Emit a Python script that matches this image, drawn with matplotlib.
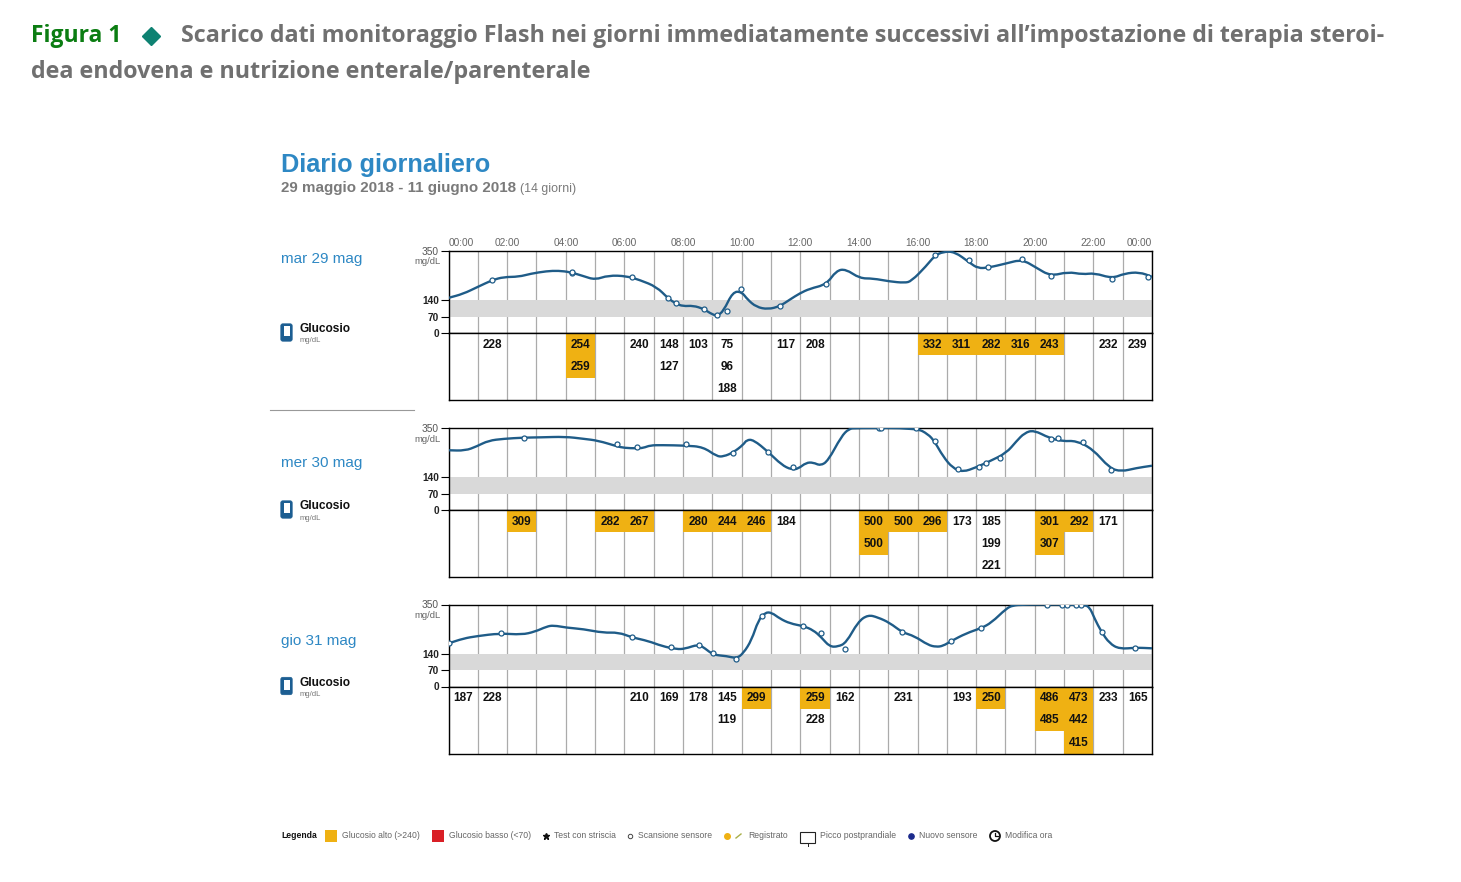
import matplotlib
matplotlib.use("Agg")
import matplotlib.pyplot as plt
from matplotlib.patches import FancyBboxPatch, Rectangle, Circle, PathPatch
from matplotlib.path import Path
import numpy as np

W, H = 1461, 882

day_labels = ["mar 29 mag", "mer 30 mag", "gio 31 mag"]
hour_ticks = ["00:00", "02:00", "04:00", "06:00", "08:00", "10:00", "12:00",
              "14:00", "16:00", "18:00", "20:00", "22:00", "00:00"]

curve1_hours = [0, 0.5, 1, 1.5, 1.88, 2.4, 2.8, 3.35, 3.75, 4.15, 4.6, 5, 5.45, 6.08, 6.53, 7.1, 7.5,
                7.75, 8.0, 8.35, 8.7, 9, 9.17, 9.38, 9.7, 10, 10.2, 10.5, 10.9, 11.3, 11.65, 11.98,
                12.32, 12.89, 13.23, 13.55, 14.03, 14.48, 15.05, 15.56, 15.79, 16.3, 16.58, 16.87,
                17.27, 17.78, 18.06, 18.42, 19.03, 19.57, 20.05, 20.54, 21.13, 21.64, 22.04, 22.64,
                23.06, 23.57, 24]
curve1_values = [150, 167, 197, 226, 239, 240, 253, 264, 266, 260, 243, 227, 246, 243, 226, 197, 147,
                 126, 114, 117, 103, 79, 74, 93, 176, 176, 143, 111, 101, 114, 143, 169,
                 189, 207, 266, 273, 233, 233, 220, 214, 221, 286, 329, 347,
                 347, 300, 276, 279, 297, 314, 279, 243, 261, 250, 256, 233,
                 254, 260, 240]
scan1_hours = [1.5, 4.2, 4.2, 6.25, 7.5, 7.75, 8.7, 9.17, 9.5, 9.98, 11.3, 12.89, 16.58, 17.76,
               18.42, 19.57, 20.54, 22.64, 23.88]
scan1_values = [228, 254, 259, 240, 148, 127, 103, 75, 96, 188, 117, 208, 332, 311,
                282, 316, 243, 232, 239]

curve2_hours = [0, 0.57, 0.97, 1.36, 1.88, 2.56, 3.13, 3.98, 4.6, 5.11, 5.74, 6, 6.42, 6.65, 6.88,
                7.27, 8.09, 8.69, 9.15, 9.38, 9.72, 10.06, 10.17, 10.4, 10.91, 11.36, 11.7, 11.93,
                12.2, 12.44, 12.69, 12.95, 13.4, 13.66, 13.9, 15.96, 16.36, 16.58, 16.87, 17.2,
                17.55, 18, 18.46, 19.03, 19.37, 19.65, 19.97, 20.5, 20.96, 21.41, 21.98, 22.55,
                22.95, 23.46, 24]
curve2_values = [255, 253, 272, 296, 304, 309, 310, 313, 304, 296, 272, 265, 263, 265, 276,
                 277, 275, 269, 229, 228, 246, 279, 299, 300, 248, 193, 172, 176,
                 202, 203, 189, 210, 314, 347, 350, 350, 324, 293, 229, 179,
                 162, 182, 208, 243, 293, 329, 341, 307, 293, 296, 260, 179,
                 164, 179, 189]
scan2_hours = [2.56, 5.74, 6.42, 8.09, 9.72, 10.91, 11.74, 14.7, 14.76, 15.96, 16.58, 17.38,
               18.09, 18.34, 18.8, 20.54, 20.8, 21.66, 22.6]
scan2_values = [309, 282, 267, 280, 244, 246, 184, 500, 500, 500, 296, 173,
                185, 199, 221, 301, 307, 292, 171]

curve3_hours = [0, 0.51, 0.97, 1.76, 2.5, 2.95, 3.35, 3.58, 4.03, 4.6, 5.28, 5.8, 6.25, 6.82, 7.27,
                7.78, 8.07, 8.52, 8.75, 9.03, 9.49, 9.83, 10.06, 10.34, 10.57, 10.8, 11.02, 11.3,
                11.65, 12.1, 12.44, 12.72, 13, 13.29, 13.57, 13.97, 14.31, 14.65, 15.05, 15.48,
                15.9, 16.36, 16.64, 16.87, 17.15, 17.66, 18.17, 18.52, 19.03, 19.25, 19.6, 21.64,
                21.87, 22.04, 22.27, 22.55, 22.89, 23.46, 24]
curve3_values = [184, 205, 215, 227, 221, 234, 256, 261, 251, 245, 229, 231, 210, 194, 173,
                 159, 161, 180, 163, 135, 130, 120, 142, 198, 283, 316, 316, 290,
                 269, 258, 241, 210, 170, 170, 187, 276, 306, 295, 272, 231,
                 215, 177, 169, 173, 194, 227, 249, 272, 333, 346, 350, 350,
                 340, 290, 234, 184, 160, 166, 163]
scan3_hours = [0.03, 1.8, 6.26, 7.59, 8.56, 9.02, 9.81, 10.68, 12.1, 12.72, 13.51, 15.48, 17.14,
               18.17, 20.42, 20.92, 21.1, 21.41, 21.58, 22.29, 23.42]
scan3_values = [187, 228, 210, 169, 178, 145, 119, 299, 259, 228, 162, 231, 193,
                250, 486, 485, 473, 442, 415, 233, 165]

curves = [(curve1_hours, curve1_values, scan1_hours, scan1_values),
          (curve2_hours, curve2_values, scan2_hours, scan2_values),
          (curve3_hours, curve3_values, scan3_hours, scan3_values)]

y_max = 350
high_limit = 240
band_low, band_high = 70, 140

ORANGE = "#EFB113"
LINE = "#1F5C88"
GRID = "#ABABAB"
BLUE = "#2E88C4"
SANS = "Liberation Sans"

plt.rcParams["font.family"] = [SANS, "DejaVu Sans"]

fig = plt.figure(figsize=(W / 100, H / 100), dpi=100)


def px_axes(x0, y0, x1, y1):
    return fig.add_axes([x0 / W, 1 - y1 / H, (x1 - x0) / W, (y1 - y0) / H])


def smooth_path(xs, ys):
    # quadratic segments through the midpoints, the read values are the control points
    pts = np.column_stack([xs, ys])
    mids = (pts[:-1] + pts[1:]) / 2
    verts = [pts[0], mids[0]]
    codes = [Path.MOVETO, Path.LINETO]
    for k in range(1, len(pts) - 1):
        verts += [pts[k], mids[k]]
        codes += [Path.CURVE3, Path.CURVE3]
    verts.append(pts[-1])
    codes.append(Path.LINETO)
    return Path(verts, codes)


page = px_axes(0, 0, W, H)
page.set_xlim(0, W)
page.set_ylim(H, 0)
page.axis("off")

# header
HEAD = "Open Sans"
page.text(31, 36, "Figura 1", family=HEAD, weight="bold", fontsize=16.5, color="#0B7D12", va="center")
page.plot([151], [36], marker="D", ms=9, color="#0E8272", ls="none")
page.text(181, 36, "Scarico dati monitoraggio Flash nei giorni immediatamente successivi all\u2019impostazione di terapia steroi-",
          family=HEAD, weight="bold", fontsize=16.75, color="#707070", va="center")
page.text(31, 72, "dea endovena e nutrizione enterale/parenterale",
          family=HEAD, weight="bold", fontsize=16.75, color="#707070", va="center")

page.text(281, 165, "Diario giornaliero", fontsize=18.2, weight="bold", color=BLUE, va="center")
page.text(281, 188, "29 maggio 2018 - 11 giugno 2018", fontsize=10.9, weight="bold", color="#7A7A7A", va="center")
page.text(520, 189, "(14 giorni)", fontsize=8.9, color="#7A7A7A", va="center")
page.plot([270, 414], [410, 410], color="#999999", lw=0.8)

tops = [251, 428, 604.5]
date_y = [258.5, 463.5, 640.5]

for i, (hours, values, scan_h, scan_v) in enumerate(curves):
    top = tops[i]
    zero = top + 82
    bottom = top + 149
    ax = px_axes(448.5, top, 1152, zero)
    ax.set_xlim(0, 24)
    ax.set_ylim(0, y_max)
    ax.axhspan(band_low, band_high, color="#D9D9D9", lw=0, zorder=1.5)
    ax.set_xticks(np.arange(0, 25))
    ax.xaxis.tick_top()
    ax.tick_params(axis="x", length=0, pad=2)
    if i == 0:
        ax.set_xticklabels([hour_ticks[h // 2] if h % 2 == 0 else "" for h in range(25)],
                           fontsize=7.3, color="#666666")
        tl = ax.get_xticklabels()
        tl[0].set_ha("left")
        tl[-1].set_ha("right")
    else:
        ax.set_xticklabels([])
    ax.grid(axis="x", color=GRID, lw=0.9, zorder=1)
    ax.set_axisbelow(True)
    ax.set_yticks([0, band_low, band_high, y_max])
    ax.set_yticklabels(["0", "70", "140", "350"], fontsize=7.3, weight="bold", color="#222222")
    ax.tick_params(axis="y", length=6, width=0.8, pad=1)
    ax.get_yticklabels()[-1].set_color("#555555")
    ax.get_yticklabels()[-1].set_weight("normal")
    for s in ax.spines.values():
        s.set_linewidth(1)
    ax.add_patch(PathPatch(smooth_path(hours, values), fc="none", ec=LINE, lw=1.7, zorder=3))
    ax.plot(scan_h, np.minimum(scan_v, y_max), ls="none", marker="o", ms=3.6, mfc="white",
            mec=LINE, mew=0.9, zorder=4)

    tab = px_axes(448.5, zero, 1152, bottom)
    tab.set_xlim(0, 24)
    tab.set_ylim(3, 0)
    tab.set_xticks(np.arange(0, 25))
    tab.set_yticks([])
    tab.tick_params(axis="x", length=0, labelbottom=False)
    tab.grid(axis="x", color=GRID, lw=0.9, zorder=1)
    tab.set_axisbelow(True)
    for s in tab.spines.values():
        s.set_linewidth(1)
    used = {}
    for h, v in zip(scan_h, scan_v):
        col = int(h)
        row = used.get(col, 0)
        used[col] = row + 1
        if v > high_limit:
            tab.bar(col + 0.5, 1, bottom=row, width=1, color=ORANGE, lw=0, zorder=2)
        tab.text(col + 0.51, row + 0.52, str(v), ha="center", va="center", fontsize=8.5,
                 weight="bold", color="#111111", zorder=3)

    page.text(441, top + 11, "mg/dL", fontsize=6.8, color="#666666", ha="right", va="center")
    page.text(281, date_y[i], day_labels[i], fontsize=11, color=BLUE, va="center")
    page.text(300, top + 78, "Glucosio", fontsize=8.6, weight="bold", color="#111111", va="center")
    page.text(300, top + 90, "mg/dL", fontsize=5.5, color="#777777", va="center")
    page.add_patch(FancyBboxPatch((282, top + 74), 9, 15, boxstyle="round,pad=1.2,rounding_size=2",
                                  fc="#1C5E92", ec="#1C5E92", lw=0.5))
    page.add_patch(Rectangle((283.5, top + 75), 6.5, 10, fc="white", ec="none"))

# legend strip
leg_y = 836
leg_size = 6.2
page.text(281, leg_y, "Legenda", fontsize=6.2, weight="bold", color="#111111", va="center")
page.add_patch(Rectangle((325, 830), 12, 12, fc=ORANGE, ec="none"))
page.text(342, leg_y, "Glucosio alto (>240)", fontsize=leg_size, color="#666666", va="center")
page.add_patch(Rectangle((432, 830), 12, 12, fc="#D91F26", ec="none"))
page.text(449, leg_y, "Glucosio basso (<70)", fontsize=leg_size, color="#666666", va="center")
page.plot([546], [leg_y], marker="*", ms=4.5, color="#111111", ls="none")
page.text(554, leg_y, "Test con striscia", fontsize=leg_size, color="#666666", va="center")
page.plot([630], [leg_y], marker="o", ms=3.2, mfc="white", mec="#444444", mew=0.7, ls="none")
page.text(638, leg_y, "Scansione sensore", fontsize=leg_size, color="#666666", va="center")
page.plot([727], [leg_y], marker="o", ms=4, color=ORANGE, ls="none")
page.plot([736, 741], [838, 834], color="#A9B04A", lw=1)
page.text(748, leg_y, "Registrato", fontsize=leg_size, color="#666666", va="center")
page.add_patch(Rectangle((800, 832), 15, 11, fc="white", ec="#222222", lw=0.8))
page.plot([807.5, 807.5], [843, 846], color="#222222", lw=0.7)
page.text(820, leg_y, "Picco postprandiale", fontsize=leg_size, color="#666666", va="center")
page.plot([911], [leg_y], marker="o", ms=3.8, color="#1B2A8C", ls="none")
page.text(919, leg_y, "Nuovo sensore", fontsize=leg_size, color="#666666", va="center")
page.add_patch(Circle((995, leg_y), 5, fc="white", ec="#111111", lw=1.3))
page.plot([995, 995, 998], [833, leg_y, leg_y], color="#111111", lw=0.9)
page.text(1005, leg_y, "Modifica ora", fontsize=leg_size, color="#666666", va="center")

fig.savefig("out.png", dpi=100)
plt.close(fig)
